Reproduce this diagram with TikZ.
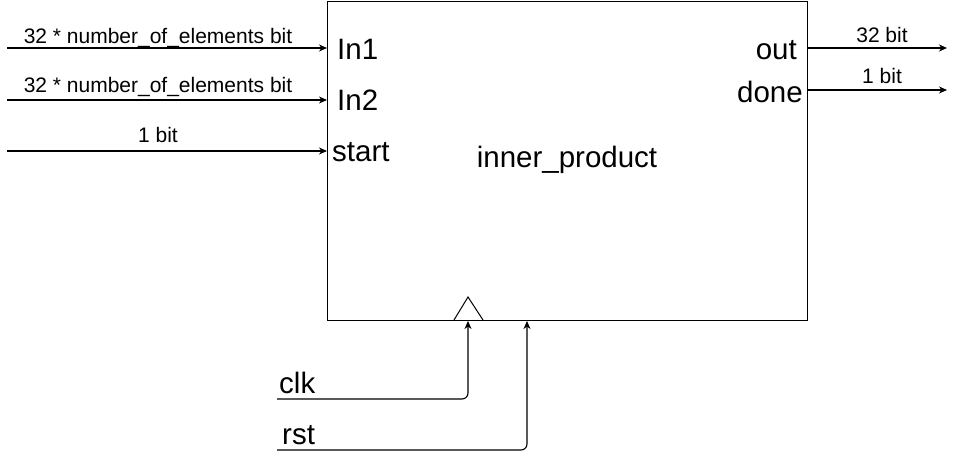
\documentclass[tikz,border=0pt]{standalone}
\usepackage{fontspec}
\setmainfont{Liberation Sans}
\usetikzlibrary{arrows.meta,calc}
\begin{document}
\begin{tikzpicture}[x=1pt,y=-1pt,
  arr/.style={line width=1.1pt,-{Stealth[length=8pt,width=7pt,inset=2.5pt]}},
  small/.style={font=\fontsize{21}{25}\selectfont, inner sep=0pt},
  big/.style={font=\fontsize{29.5}{34}\selectfont, inner sep=0pt}]
\useasboundingbox (0,0) rectangle (957,460);
\node[draw, line width=1.1pt, minimum width=480pt, minimum height=319pt, inner sep=0pt, anchor=north west] (blk) at (327,1) {};
\node[big] (title) at (567,160) {inner\_product};
% port labels
\node[big, anchor=west] (in1) at (337,49) {In1};
\node[big, anchor=west] (in2) at (337,100) {In2};
\node[big, anchor=west] (start) at (332,152) {start};
\node[big, anchor=east] (out) at (797,50) {out};
\node[big, anchor=east] (done) at (803,92) {done};
% input arrows
\coordinate (s1) at (7,48);
\coordinate (s2) at (7,100);
\coordinate (s3) at (7,151);
\coordinate (e1) at (327,48);
\coordinate (e2) at (327,100);
\coordinate (e3) at (327,151);
\draw[arr] (s1) -- (e1);
\draw[arr] (s2) -- (e2);
\draw[arr] (s3) -- (e3);
\node[small, anchor=base] (l1) at (158,44) {32 * number\_of\_elements bit};
\node[small, anchor=base] (l2) at (158,92) {32 * number\_of\_elements bit};
\node[small, anchor=base] (l3) at (158,142) {1 bit};
% output arrows
\coordinate (o1) at (807,48);
\coordinate (o2) at (807,90);
\coordinate (t1) at (947,48);
\coordinate (t2) at (947,90);
\draw[arr] (o1) -- (t1);
\draw[arr] (o2) -- (t2);
\node[small, anchor=base] (l4) at (882,42) {32 bit};
\node[small, anchor=base] (l5) at (882,83) {1 bit};
% clock triangle
\coordinate (ta) at (454,320);
\coordinate (tb) at (468,297);
\coordinate (tc) at (483,320);
\draw[line width=1pt, line join=miter] (ta) -- (tb) -- (tc);
% clk and rst
\node[big, anchor=base west] (clk) at (279,393) {clk};
\node[big, anchor=base west] (rst) at (282,444) {rst};
\coordinate (cs) at (277,399);
\coordinate (ce) at (468,321);
\coordinate (rs) at (277,450);
\coordinate (re) at (527,321);
\draw[arr, rounded corners=6pt] (cs) -| (ce);
\draw[arr, rounded corners=6pt] (rs) -| (re);
\end{tikzpicture}
\end{document}
